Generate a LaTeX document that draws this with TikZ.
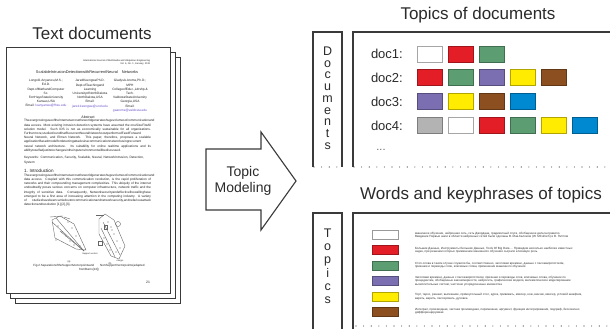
\documentclass[tikz,border=0pt]{standalone}
\usepackage{fontspec}
\setmainfont{Liberation Sans}
\definecolor{cred}{HTML}{E41E26}
\definecolor{cgreen}{HTML}{5C9E72}
\definecolor{cpurple}{HTML}{7B6FB2}
\definecolor{cyellow}{HTML}{FFEC00}
\definecolor{cbrown}{HTML}{8C4F1F}
\definecolor{cblue}{HTML}{0088D0}
\definecolor{cgray}{HTML}{B3B3B3}
\definecolor{cwhite}{HTML}{FFFFFF}
\definecolor{ink}{HTML}{2B2B2B}
\definecolor{frame}{HTML}{3A3A3A}
\definecolor{pagetext}{HTML}{222222}
\definecolor{mail}{HTML}{6A4FC8}
\begin{document}
\begin{tikzpicture}[x=1pt,y=-1pt,
  every node/.style={inner sep=0pt, outer sep=0pt, text=ink},
  title/.style={font=\fontsize{17}{20}\selectfont},
  pagebox/.style={draw=frame, fill=white, line width=1pt},
  boxline/.style={draw=frame, line width=1.1pt},
  dotline/.style={draw=frame, line width=1.1pt, line cap=round, dash pattern=on 0pt off 7.6pt},
  vletter/.style={font=\fontsize{12.5}{14}\selectfont, anchor=base},
  doclabel/.style={font=\fontsize{13}{15}\selectfont, anchor=west},
  sw/.style={fill=#1, draw=#1!70!black, line width=0.8pt, minimum width=25.5pt, minimum height=16pt},
  swwhite/.style={fill=white, draw=black!35, line width=0.8pt, minimum width=25.5pt, minimum height=16pt},
  tsw/.style={fill=#1, draw=#1!70!black, line width=0.8pt, minimum width=26pt, minimum height=9pt},
  topictext/.style={font=\fontsize{3}{3.4}\selectfont, anchor=west, align=left, text=black!80},
  ptxt/.style={font=\fontsize{3.2}{4.2}\selectfont, text=pagetext},
  figline/.style={draw=black!60, line width=0.4pt}
]
\useasboundingbox (0,0) rectangle (610,329);
\fill[white] (0,0) rectangle (610,329);

% ---------------- Text documents ----------------
\node[title] (ttext) at (92,33) {Text documents};
\draw[pagebox] (15,58) rectangle (180,303);
\draw[pagebox] (10.5,53) rectangle (175,298);
\node[pagebox, anchor=north west, minimum width=164pt, minimum height=245pt] (page) at (6,48) {};

\node[ptxt, font=\fontsize{2.4}{2.9}\selectfont, anchor=north east, align=right] (phead) at (150,59.5)
  {International Journal of Multimedia and Ubiquitous Engineering\\Vol. 6, No. 1, January, 2011};
\node[ptxt, font=\fontsize{3.9}{4.5}\selectfont] (ptitle) at (87,72)
  {ScalableIntrusionDetectionwithRecurrentNeural\quad Networks};
\node[ptxt, anchor=north, align=center] (pau1) at (46,79.5)
  {LongoO.Anyanwu,M.S.;\\Ed.D.\\Dept.ofMathandComputer\\Sc.\\FortHaysStateUniversity\\Kansas,USA\\Email: \textcolor{mail}{loanyanwu@fhsu.edu}};
\node[ptxt, anchor=north, align=center] (pau2) at (90,79.5)
  {JaredKeengwePh.D.\\Dept.ofTeachingand\\Learning\\UniversityofNorthDakota\\NorthDakota,USA\\Email:\\\textcolor{mail}{jared.keengwe@und.edu}};
\node[ptxt, anchor=north, align=center] (pau3) at (130,79.5)
  {GladysA.Arome,Ph.D.;\\MPH\\CollegeofEduc.,Ldrshp.\&\\Tech.\\ValdostaStateUniversity\\Georgia,USA\\Email:\\\textcolor{mail}{gaarome@valdosta.edu}};
\node[ptxt, font=\fontsize{3.6}{4.2}\selectfont] (pabs) at (88,117) {Abstract};
\node[ptxt, anchor=north, text width=127pt, align=justify] (pabsbody) at (87.5,119.5)
  {TheevergrowinguseoftheInternetacrosstheworldgenerateshugevolumesofcommunicationand data access. Most existing intrusion detection systems have assumed the oneSizeFitsAll solution model. Such IDS is not as economically sustainable for all organizations. Furthermore,studiesfoundthatRecurrentNeuralNetworksoutperformedFeedForward Neural Network, and Elman Network. This paper, therefore, proposes a scalable applicationBasedmodelfordetectingattacksinacommunicationnetworkusingrecurrent neural network architecture. Its suitability for online realtime applications and its abilitytoselfadjustitstochangesintheinputenvironmentwillbediscussed.};
\node[ptxt, anchor=north, text width=127pt, align=left] (pkey) at (87.5,156.5)
  {Keywords: Communication, Security, Scalable, Neural, NetworkIntrusion, Detection, System};
\node[ptxt, font=\fontsize{4.6}{5}\selectfont, anchor=west] (pintro) at (24,171) {1. Introduction};
\node[ptxt, anchor=north, text width=127pt, align=justify] (pintrobody) at (87.5,174)
  {TheevergrowinguseoftheInternetacrosstheworldgenerateshugevolumesofcommunicationand data access. Coupled with this communication revolution, is the rapid proliferation of networks and their compounding management complexities. This ubiquity of the internet undoubtedly poses serious concerns on computer infrastructure, network traffic and the integrity of sensitive data. Consequently, Networksecurityandeffectivefirewallinghave emerged to be a first area of increasing attention in the computing industry. A variety of studieshavebeencarriedoutoncommunicationandnetworksecurity,andnefariousattack detectionandresolution [1],[2],[3].};
% figures
\draw[figline] (50,217) -- (63,216);
\draw[figline] (52,220) -- (60,216) -- (74,224) -- (86,250) -- (76,249) -- (55,238) -- cycle;
\draw[figline] (52,222) -- (84,251);
\draw[figline] (56,218) -- (84,251);
\draw[figline] (60,231) -- (84,251);
\draw[figline] (64,217) -- (70,219);
\foreach \p [count=\i] in {(58,226),(62,232),(66,236),(70,241),(74,245),(68,222),(72,228),(76,236),(56,240),(80,246)}
  \fill[black!60] \p circle (0.6pt);
\node[ptxt, font=\fontsize{2.2}{2.6}\selectfont] (pflab1) at (90,254) {Support vectors};
\node[ptxt, font=\fontsize{2.4}{2.8}\selectfont] (pfa) at (69,262) {(a)};
\draw[figline] (99,219) -- (105,214) -- (114,220) -- (125,246) -- (119,259) -- (111,256) -- (99,234) -- cycle;
\draw[figline] (96,215) -- (104,215);
\draw[figline] (103,222) -- (120,255);
\draw[figline] (101,228) -- (115,257);
\draw[figline] (118,224) circle (2.5pt);
\draw[figline] (98,241) rectangle (102,245);
\draw[figline] (104,225) rectangle (107,229);
\foreach \p [count=\i] in {(108,222),(111,227),(114,234),(117,241),(120,248),(104,238),(107,244),(110,250),(112,230),(116,252)}
  \fill[black!60] \p circle (0.6pt);
\node[ptxt, font=\fontsize{2.2}{2.6}\selectfont] (pflab2) at (120,261) {margin};
\node[ptxt, font=\fontsize{2.4}{2.8}\selectfont] (pfb) at (110,264) {(b)};
\node[ptxt, font=\fontsize{3}{3.9}\selectfont, align=center] (pcap) at (89,268)
  {Fig.2.SeparationoftheSupportVectorpointsand\qquad NonSupportVectorpoints(adapted\\fromBurns[13])};
\node[ptxt, font=\fontsize{3.4}{4}\selectfont] (pnum) at (148,282) {21};

% ---------------- Arrow ----------------
\draw[draw=frame, line width=1.1pt, fill=white, line join=miter]
  (206,149) -- (261,149) -- (261,132) -- (296,181) -- (261,230) -- (261,210) -- (206,210) -- cycle;
\node[font=\fontsize{14}{16}\selectfont, align=center] (tm) at (243,181) {Topic\\Modeling};

% ---------------- Topics of documents ----------------
\node[title] (ttopdoc) at (478,15) {Topics of documents};
\draw[boxline] (313,167) -- (313,32) -- (342,32) -- (342,167);
\draw[boxline] (353,167) -- (353,32) -- (612,32);
\draw[dotline] (314,167) -- (342,167);
\draw[dotline] (354,167) -- (610,167);
\foreach \l [count=\i] in {D,o,c,u,m,e,n,t,s}
  \node[vletter] (dl\i) at (327.7,{55.5+11.7*(\i-1)}) {\l};

\node[doclabel] (doc1) at (371,54) {doc1:};
\node[doclabel] (doc2) at (371,78) {doc2:};
\node[doclabel] (doc3) at (371,102) {doc3:};
\node[doclabel] (doc4) at (371,126) {doc4:};
\node[font=\fontsize{11}{13}\selectfont, text=black!60] (docdots) at (381,150) {...};

\node[swwhite] (a1) at (430,54) {};
\node[sw=cred] (a2) at (461,54) {};
\node[sw=cgreen] (a3) at (492,54) {};

\node[sw=cred] (b1) at (430,77) {};
\node[sw=cgreen] (b2) at (461,77) {};
\node[sw=cpurple] (b3) at (492,77) {};
\node[sw=cyellow] (b4) at (523,77) {};
\node[sw=cbrown] (b5) at (554,77) {};

\node[sw=cpurple] (c1) at (430,101) {};
\node[sw=cyellow] (c2) at (461,101) {};
\node[sw=cbrown] (c3) at (492,101) {};
\node[sw=cblue] (c4) at (523,101) {};

\node[sw=cgray] (e1) at (430,125) {};
\node[swwhite] (e2) at (461,125) {};
\node[sw=cred] (e3) at (492,125) {};
\node[sw=cgreen] (e4) at (523,125) {};
\node[sw=cyellow] (e5) at (554,125) {};
\node[sw=cblue] (e6) at (585,125) {};

% ---------------- Words and keyphrases ----------------
\node[title] (twords) at (481,195) {Words and keyphrases of topics};
\draw[boxline] (313,331) -- (313,213) -- (342,213) -- (342,331);
\draw[boxline] (353,331) -- (353,213) -- (612,213);
\draw[dotline] (356,326) -- (610,326);
\foreach \l [count=\i] in {T,o,p,i,c,s}
  \node[vletter] (tl\i) at (327.7,{237.5+13.2*(\i-1)}) {\l};

\node[tsw=white, draw=black!40] (s1) at (385,235) {};
\node[tsw=cred] (s2) at (385,250) {};
\node[tsw=cgreen] (s3) at (385,265.5) {};
\node[tsw=cpurple] (s4) at (385,281) {};
\node[tsw=cyellow] (s5) at (385,296.5) {};
\node[tsw=cbrown] (s6) at (385,311.5) {};

\node[topictext] (w1) at (415,235) {машинное обучение, нейронная сеть, сеть Джордана, градиентный спуск, обобщенное дельта-правило.\\Введение Первые шаги в области нейронных сетей были сделаны В. Мак-Калоком (W. MCulloch) и В. Питтом};
\node[topictext] (w2) at (415,250) {Большие Данные, Инструменты Больших Данных, Tools Of Big Data ... Приведем несколько наиболее известных\\задач, при решении которых применение машинного обучения сыграло ключевую роль};
\node[topictext] (w3) at (415,265.5) {Стоп-слова в таком случае служили бы, соответственно, заголовки времени, данные с пассажиропотоком,\\признаки и переводы слов, ключевые слова, применение машинного обучения};
\node[topictext] (w4) at (415,281) {Заголовки времени, данные с пассажиропотоком, признаки и переводы слов, ключевые слова, обучение по\\прецедентам, обобщённые закономерности, нейросеть, графические модели, математическое моделирование\\вычислительных систем, частично упорядоченные множества};
\node[topictext] (w5) at (415,296.5) {Торт, тарос, решает, выпекание, прямоугольный стол, курок, прививать, миксер, нож, венчик, миксер, угловой шкафчик,\\варить, варить, пассеровать, духовка};
\node[topictext] (w6) at (415,311.5) {Интеграл, производная, частная производная, переменная, аргумент, функция интегрирования, подграф, бесконечно\\дифференцируемая};
\end{tikzpicture}
\end{document}
